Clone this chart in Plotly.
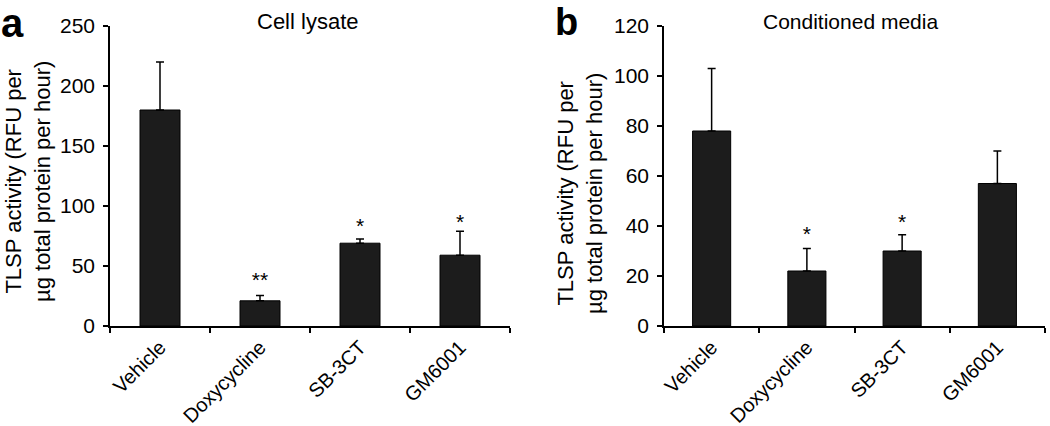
import plotly.graph_objects as go

categories = ["Vehicle", "Doxycycline", "SB-3CT", "GM6001"]

lysate_values = [180, 21, 69, 59]
lysate_errors = [40, 4.5, 3.5, 20]
lysate_stars = ["", "**", "*", "*"]
lysate_star_y = [None, 37, 82, 85]

media_values = [78, 22, 30, 57]
media_errors = [25, 9, 6.5, 13]
media_stars = ["", "*", "*", ""]
media_star_y = [None, 36, 41, None]

W, H = 1050, 426
FONT = "Liberation Sans, Arial, Helvetica, sans-serif"
BAR = "#1c1c1c"


def px_x(p):
    return p / W


def px_y(p):
    return 1 - p / H


fig = go.Figure()

panels = [
    ("x", "y", lysate_values, lysate_errors, lysate_stars, lysate_star_y),
    ("x2", "y2", media_values, media_errors, media_stars, media_star_y),
]
for xa, ya, vals, errs, stars, star_y in panels:
    fig.add_trace(go.Bar(
        x=categories, y=vals, xaxis=xa, yaxis=ya, width=0.4,
        marker=dict(color=BAR, line=dict(color="#000000", width=1)),
        error_y=dict(type="data", array=errs, arrayminus=[0] * len(errs),
                     symmetric=False, color="#000000", thickness=1.5, width=4),
        showlegend=False, hoverinfo="skip",
    ))
    fig.add_trace(go.Scatter(
        x=categories, y=star_y, text=stars, mode="text", xaxis=xa, yaxis=ya,
        textposition="middle center",
        textfont=dict(family=FONT, size=21, color="#000000"),
        showlegend=False, hoverinfo="skip",
    ))

axis_common = dict(showgrid=False, zeroline=False, showline=True, automargin=False,
                   linecolor="#000000", linewidth=1.5,
                   ticks="outside", ticklen=5, tickwidth=1.5, tickcolor="#000000")
xfont = dict(family=FONT, size=20, color="#000000")
yfont = dict(family=FONT, size=21, color="#000000")

y_bottom, y_top = px_y(326), px_y(26)

fig.update_layout(
    template="none",
    width=W, height=H,
    margin=dict(l=0, r=0, t=0, b=0, pad=0),
    paper_bgcolor="white", plot_bgcolor="white",
    xaxis=dict(domain=[px_x(110), px_x(510)], anchor="y", tickson="boundaries",
               tickangle=-45, range=[-0.5, 3.5], tickfont=xfont, **axis_common),
    yaxis=dict(domain=[y_bottom, y_top], anchor="x", range=[0, 250],
               tickvals=[0, 50, 100, 150, 200, 250], ticklabelstandoff=4,
               tickfont=yfont, **axis_common),
    xaxis2=dict(domain=[px_x(664), px_x(1045)], anchor="y2", tickson="boundaries",
                tickangle=-45, range=[-0.5, 3.5], tickfont=xfont, **axis_common),
    yaxis2=dict(domain=[y_bottom, y_top], anchor="x2", range=[0, 120],
                tickvals=[0, 20, 40, 60, 80, 100, 120], ticklabelstandoff=4,
                tickfont=yfont, **axis_common),
)

ytitle = "TLSP activity (RFU per<br>µg total protein per hour)"
annos = [
    dict(text="<b>a</b>", x=px_x(0), y=1, xanchor="left", yanchor="top",
         font=dict(size=40)),
    dict(text="<b>b</b>", x=px_x(554), y=1, xanchor="left", yanchor="top",
         font=dict(size=38)),
    dict(text="Cell lysate", x=px_x(307), y=px_y(22), font=dict(size=22)),
    dict(text="Conditioned media", x=px_x(850), y=px_y(21), font=dict(size=21)),
    dict(text=ytitle, x=px_x(0), y=px_y(182), xanchor="left", font=dict(size=22),
         textangle=-90),
    dict(text=ytitle, x=px_x(580), y=px_y(194), font=dict(size=22), textangle=-90),
]
for a in annos:
    a["font"].update(family=FONT, color="#000000")
    a.setdefault("xanchor", "center")
    a.setdefault("yanchor", "middle")
    fig.add_annotation(xref="paper", yref="paper", showarrow=False, borderpad=0, **a)

fig.write_html(
    "out.html",
    config={"displayModeBar": False},
    post_script="document.body.style.margin='0';document.body.style.overflow='hidden';",
)
